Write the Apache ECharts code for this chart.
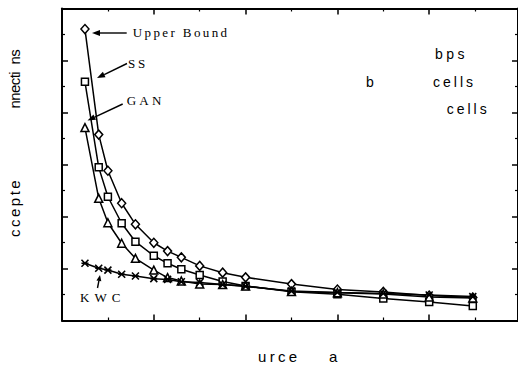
<!DOCTYPE html>
<html>
<head>
<meta charset="utf-8">
<script src="https://cdn.jsdelivr.net/npm/echarts@6/dist/echarts.min.js"></script>
<style>
html,body{margin:0;padding:0;background:#fff;}
#chart{width:518px;height:366px;}
</style>
</head>
<body>
<div id="chart"></div>
<script>
// ---- data ----
const xValues = [0.5, 0.8, 1.0, 1.3, 1.6, 2.0, 2.3, 2.6, 3.0, 3.5, 4.0, 5, 6, 7, 8, 8.95];
const upperBound = [11.21, 7.15, 5.76, 4.51, 3.70, 2.99, 2.67, 2.43, 2.10, 1.84, 1.66, 1.40, 1.19, 1.10, 0.96, 0.88];
const ss  = [9.18, 5.89, 4.76, 3.74, 3.03, 2.49, 2.20, 1.97, 1.75, 1.50, 1.33, 1.11, 1.01, 0.85, 0.71, 0.56];
const gan = [7.42, 4.70, 3.76, 2.97, 2.39, 1.94, 1.65, 1.52, 1.40, 1.38, 1.33, 1.12, 1.07, 1.02, 0.90, 0.87];
const kwc = [2.20, 2.01, 1.94, 1.78, 1.71, 1.61, 1.58, 1.49, 1.46, 1.38, 1.31, 1.13, 1.08, 1.04, 0.98, 0.92];
const seriesNames = ['Upper Bound', 'SS', 'GAN', 'KWC'];
const yTitleParts = ['ccepte', 'nnecti ns'];
const xTitleParts = ['urce', 'a'];
const noteTexts = ['bps', 'b', 'cells', 'cells'];

const pair = arr => xValues.map((x, i) => [x, arr[i]]);
const starPath = 'path://M0,0L10,10M10,0L0,10M0,5L10,5';

const chart = echarts.init(document.getElementById('chart'), null, {renderer: 'svg'});

const axisCommon = {
  type: 'value',
  axisLabel: {show: false},
  splitLine: {show: false},
  axisLine: {show: true, onZero: false, lineStyle: {color: '#000', width: 2}},
  axisTick: {show: true, inside: true, length: 6, lineStyle: {color: '#000', width: 1.5}},
  minorTick: {show: true, splitNumber: 2, length: 3, lineStyle: {color: '#000', width: 1.2}}
};
const xAxisBase = Object.assign({}, axisCommon, {min: 0, max: 9.935, interval: 2});
const yAxisBase = Object.assign({}, axisCommon, {min: 0, max: 12, interval: 2});

function mkSeries(name, data, symbol, size) {
  return {
    name, type: 'line', data: pair(data), symbol, symbolSize: size,
    showAllSymbol: true,
    lineStyle: {color: '#000', width: 1.5},
    itemStyle: {color: '#fff', borderColor: '#000', borderWidth: 1.5},
    emphasis: {disabled: true}, animation: false
  };
}

const serif = '13px "Liberation Serif", "Times New Roman", serif';
const sans = '14px "Liberation Sans", Arial, sans-serif';
const sansTitle = '15px "Liberation Sans", Arial, sans-serif';

function arrow(x1, y1, x2, y2, headLen, headHalf) {
  const dx = x2 - x1, dy = y2 - y1, L = Math.hypot(dx, dy);
  const ux = dx / L, uy = dy / L;
  const bx = x2 - ux * headLen, by = y2 - uy * headLen;
  return [
    {type: 'line', shape: {x1, y1, x2: bx, y2: by}, style: {stroke: '#000', lineWidth: 1.4}},
    {type: 'polygon', shape: {points: [[x2, y2], [bx - uy * headHalf, by + ux * headHalf], [bx + uy * headHalf, by - ux * headHalf]]}, style: {fill: '#000'}}
  ];
}

const graphics = [
  {type: 'text', x: 132.7, y: 32.5, style: {text: seriesNames[0], font: serif, fill: '#000', align: 'left', verticalAlign: 'middle'}},
  {type: 'text', x: 128, y: 63.5, style: {text: seriesNames[1], font: serif, fill: '#000', align: 'left', verticalAlign: 'middle'}},
  {type: 'text', x: 126.7, y: 100, style: {text: seriesNames[2], font: serif, fill: '#000', align: 'left', verticalAlign: 'middle'}},
  {type: 'text', x: 80, y: 297.7, style: {text: seriesNames[3], font: serif, fill: '#000', align: 'left', verticalAlign: 'middle'}},
  ...arrow(126.7, 33, 92, 33, 8, 3),
  ...arrow(127, 63.5, 97, 78, 8, 3),
  ...arrow(122.7, 104, 87.5, 120.5, 8, 3),
  ...arrow(97.5, 288, 100, 275, 6, 2.5),
  {type: 'text', x: 435, y: 54, style: {text: noteTexts[0], font: sans, fill: '#000', align: 'left', verticalAlign: 'middle'}},
  {type: 'text', x: 366, y: 81.7, style: {text: noteTexts[1], font: sans, fill: '#000', align: 'left', verticalAlign: 'middle'}},
  {type: 'text', x: 433, y: 81.7, style: {text: noteTexts[2], font: sans, fill: '#000', align: 'left', verticalAlign: 'middle'}},
  {type: 'text', x: 446.7, y: 109, style: {text: noteTexts[3], font: sans, fill: '#000', align: 'left', verticalAlign: 'middle'}},
  {type: 'text', x: 14, y: 237, rotation: Math.PI / 2, style: {text: yTitleParts[0], font: sansTitle, fill: '#000', align: 'left', verticalAlign: 'middle'}},
  {type: 'text', x: 14, y: 108.5, rotation: Math.PI / 2, style: {text: yTitleParts[1], font: sansTitle, fill: '#000', align: 'left', verticalAlign: 'middle'}},
  {type: 'text', x: 258, y: 356, style: {text: xTitleParts[0], font: sansTitle, fill: '#000', align: 'left', verticalAlign: 'middle'}},
  {type: 'text', x: 329, y: 356, style: {text: xTitleParts[1], font: sansTitle, fill: '#000', align: 'left', verticalAlign: 'middle'}}
];

chart.setOption({
  animation: false,
  grid: {left: 62, top: 8.5, width: 457, height: 312, containLabel: false},
  xAxis: [
    Object.assign({}, xAxisBase, {position: 'bottom'}),
    Object.assign({}, xAxisBase, {position: 'top'})
  ],
  yAxis: [
    Object.assign({}, yAxisBase, {position: 'left'}),
    Object.assign({}, yAxisBase, {position: 'right'})
  ],
  series: [
    mkSeries(seriesNames[0], upperBound, 'diamond', [8, 9]),
    mkSeries(seriesNames[1], ss, 'rect', 7),
    mkSeries(seriesNames[2], gan, 'triangle', 8),
    Object.assign(mkSeries(seriesNames[3], kwc, starPath, 7), {itemStyle: {color: 'none', borderColor: '#000', borderWidth: 1.6}})
  ],
  graphic: graphics
});

const spacing = {'Upper Bound': 2.4, 'SS': 2.7, 'GAN': 3.2, 'KWC': 5, 'bps': 3.5, 'b': 0, 'cells': 3, 'ccepte': 2.5, 'nnecti ns': -0.6, 'urce': 3.3, 'a': 0};
const wordSpacing = {'nnecti ns': 4};
function applySpacing() {
  document.querySelectorAll('#chart svg text').forEach(t => {
    const s = spacing[t.textContent];
    if (s !== undefined) t.style.letterSpacing = s + 'px';
    const w = wordSpacing[t.textContent];
    if (w !== undefined) t.style.wordSpacing = w + 'px';
  });
}
chart.on('finished', applySpacing);
applySpacing();
setTimeout(applySpacing, 50);
</script>
</body>
</html>
